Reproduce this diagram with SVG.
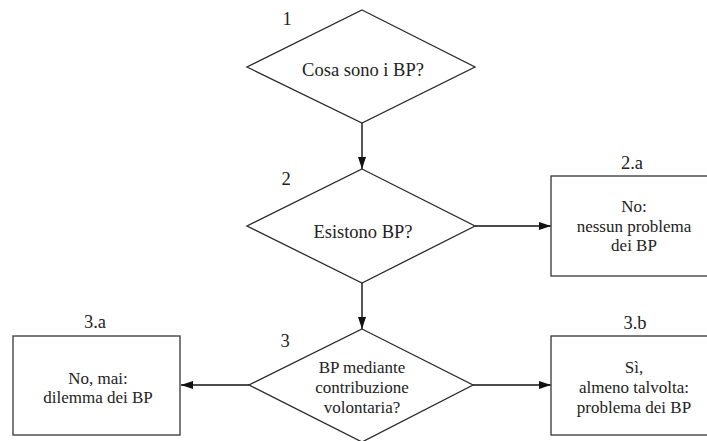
<svg xmlns="http://www.w3.org/2000/svg" width="707" height="441" viewBox="0 0 707 441">
<defs>
<style>
.shape{fill:#fff;stroke:#2a2a2a;stroke-width:1.3}
.box{fill:#fff;stroke:#444;stroke-width:1.4}
text{font-family:'Liberation Serif','DejaVu Serif',serif;font-size:18.5px;fill:#222;text-anchor:middle}
.m{font-size:17px}
.c{stroke:#111;stroke-width:1.4;fill:none;marker-end:url(#ah)}
</style>
<marker id="ah" viewBox="0 0 12 8" refX="12" refY="4" markerWidth="12" markerHeight="8" markerUnits="userSpaceOnUse" orient="auto">
<path d="M0,0 L12,4 L0,8 Z" fill="#111"/>
</marker>
</defs>
<rect width="707" height="441" fill="#fff"/>
<g id="connectors">
<line class="c" x1="362" y1="123" x2="362" y2="169"/>
<line class="c" x1="475" y1="226" x2="551" y2="226"/>
<line class="c" x1="362" y1="283" x2="362" y2="329"/>
<line class="c" x1="249" y1="385" x2="181" y2="385"/>
<line class="c" x1="473" y1="385" x2="551" y2="385"/>
</g>
<g id="n1">
<polygon class="shape" points="362,10 475,67 362,123 247,67"/>
<text x="287" y="25">1</text>
<text x="363" y="76">Cosa sono i BP?</text>
</g>
<g id="n2">
<polygon class="shape" points="362,169 475,226 362,283 247,226"/>
<text x="286" y="185">2</text>
<text x="363" y="238">Esistono BP?</text>
</g>
<g id="n2a">
<rect class="box" x="551" y="176" width="166" height="100"/>
<text x="632" y="169">2.a</text>
<text class="m" x="634" y="212">No:</text>
<text class="m" x="634" y="231.6">nessun problema</text>
<text class="m" x="634" y="251.2">dei BP</text>
</g>
<g id="n3">
<polygon class="shape" points="362,329 473,385 362,442 249,385"/>
<text x="285" y="347">3</text>
<text class="m" x="362" y="373.4">BP mediante</text>
<text class="m" x="362" y="393">contribuzione</text>
<text class="m" x="362" y="412.6">volontaria?</text>
</g>
<g id="n3a">
<rect class="box" x="13" y="336" width="167" height="99"/>
<text x="95" y="328">3.a</text>
<text class="m" x="98" y="383.7">No, mai:</text>
<text class="m" x="98" y="403.3">dilemma dei BP</text>
</g>
<g id="n3b">
<rect class="box" x="551" y="336" width="166" height="99"/>
<text x="635" y="329">3.b</text>
<text class="m" x="634" y="373.4">Sì,</text>
<text class="m" x="634" y="393">almeno talvolta:</text>
<text class="m" x="634" y="412.6">problema dei BP</text>
</g>
</svg>
